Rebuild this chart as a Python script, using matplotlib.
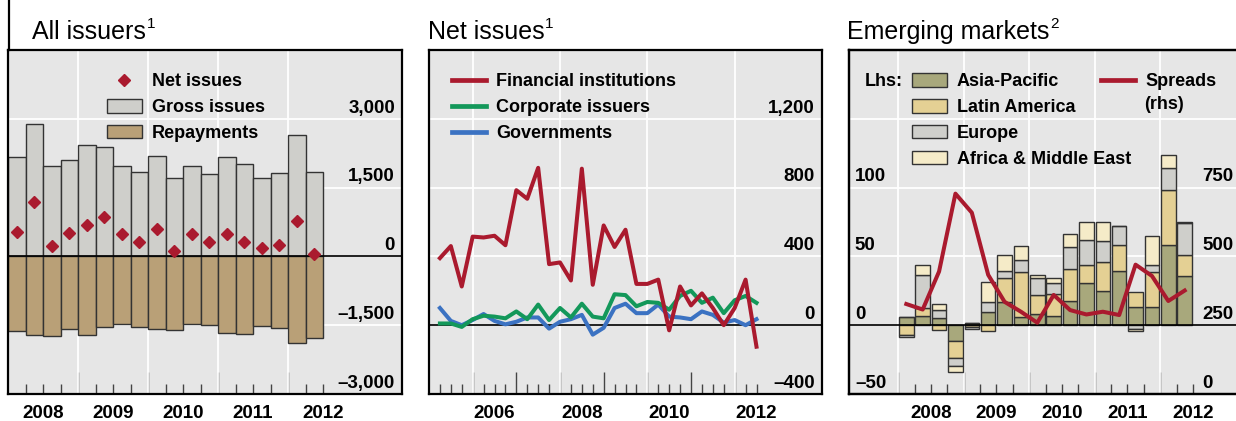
import matplotlib
matplotlib.use('Agg')
import matplotlib.pyplot as plt
import matplotlib.transforms as mtransforms
from matplotlib.lines import Line2D
import numpy as np

plt.rcParams['font.family'] = ['Liberation Sans', 'DejaVu Sans']

# ---------------- data ----------------
# left panel: all issuers, quarterly, USD bn
all_quarters = ['2008Q1', '2008Q2', '2008Q3', '2008Q4', '2009Q1', '2009Q2', '2009Q3', '2009Q4',
                '2010Q1', '2010Q2', '2010Q3', '2010Q4', '2011Q1', '2011Q2', '2011Q3', '2011Q4',
                '2012Q1', '2012Q2']
gross_issues = [2160, 2890, 1975, 2100, 2435, 2395, 1975, 1850, 2195, 1705, 1975, 1795,
                2160, 2010, 1705, 1815, 2650, 1845]
repayments = [-1625, -1705, -1740, -1590, -1720, -1535, -1480, -1550, -1590, -1595, -1465, -1485,
              -1670, -1700, -1520, -1560, -1890, -1780]
net_issues = [535, 1185, 220, 510, 695, 855, 490, 305, 605, 125, 490, 305,
              490, 305, 185, 255, 770, 60]

# middle panel: net issues by sector, quarterly
net_quarters = [f'{y}Q{q}' for y in range(2005, 2013) for q in range(1, 5)][:30]
financial = [390, 460, 225, 515, 510, 520, 465, 785, 735, 915, 355, 365, 260, 910, 235,
             580, 455, 555, 240, 240, 265, -30, 225, 115, 185, 100, 0, 100, 265, -125]
corporate = [10, 10, -10, 35, 55, 50, 40, 80, 35, 120, 30, 100, 45, 125, 50,
             40, 180, 175, 110, 135, 130, 90, 170, 200, 130, 160, 70, 145, 170, 130]
governments = [100, 25, 0, 30, 65, 25, 5, 20, 45, 45, -20, 20, 35, 60, -55,
               -15, 100, 125, 70, 70, 120, 50, 45, 35, 80, 60, 15, 30, 0, 35]

# right panel: emerging markets, quarterly
em_quarters = all_quarters
asia_pacific = [6, 7, 5.5, -11.7, 1.5, 9.3, 16.6, 6.1, 8.5, 6.8, 17.8, 31, 24.9, 39.5, 12.9, 12.9, 58, 35.4]
latin_america = [-7, 5.4, -3.6, -12.2, -1.2, -4.4, 17.6, 32.2, 13.4, 15.9, 22.9, 12.4, 20.7, 19, 11, 26.1, 40, 15.4]
europe = [-1.6, 23.8, 5.8, -5.4, -1.8, 7.8, 4.9, 8.8, 12.2, 7.8, 15.9, 18.3, 15.4, 13.4, -2.5, 4.4, 16.1, 23.2]
africa_me = [0, 7.6, 4.4, -4.4, 0, 14.1, 11.7, 10.2, 2.4, 4.1, 10, 13.2, 13.9, 0, -1.5, 21.2, 9.8, 1]
spreads = [327, 307, 445, 728, 659, 433, 335, 299, 259, 360, 305, 289, 299, 287, 470, 429, 338, 376]

# ---------------- style ----------------
BG = '#e6e6e6'
RED = '#aa1a2e'
GREEN = '#13985a'
BLUE = '#3b72c2'
GREY = '#cfcfcb'
TAN = '#b9a077'
OLIVE = '#a8a87c'
SAND = '#e4d094'
CREAM = '#f5ebc8'
EDGE = '#333333'
W, H = 1236, 421
LEG_Y = 0.932


def qstart(q):
    return int(q[:4]) + (int(q[-1]) - 1) / 4


def setup(ax, xlim, ylim, ygrid, major, minor, vgrid):
    ax.set_facecolor(BG)
    ax.set_xlim(xlim)
    ax.set_ylim(ylim)
    ax.set_yticks(ygrid)
    ax.tick_params(axis='y', length=0, labelleft=False, labelright=False)
    ax.grid(axis='y', color='white', lw=1.3)
    for v in vgrid:
        ax.axvline(v, color='white', lw=1.3, zorder=0.6)
    ax.xaxis.set_ticks_position('bottom')
    ax.set_xticks(major)
    ax.set_xticks(minor, minor=True)
    ax.tick_params(axis='x', which='major', direction='in', length=16, width=1,
                   color='#444444', labelbottom=False)
    ax.tick_params(axis='x', which='minor', direction='in', length=7, width=1,
                   color='#444444')
    ax.axhline(0, color='black', lw=1.2, zorder=2.5)
    for s in ax.spines.values():
        s.set_linewidth(1.6)
    ax.set_axisbelow(True)


def ylabels(ax, values, texts, x, ha):
    trans = mtransforms.blended_transform_factory(ax.transAxes, ax.transData)
    trans = mtransforms.offset_copy(trans, fig=ax.figure, y=4.5, units='points')
    for v, t in zip(values, texts):
        ax.text(x, v, t, transform=trans, ha=ha, va='baseline', fontsize=13.5,
                fontweight='bold', zorder=5)


def xlabels(ax, years):
    trans = mtransforms.blended_transform_factory(ax.transData, ax.transAxes)
    for y in years:
        ax.text(y + 0.5, -0.058, str(y), transform=trans, ha='center', va='center',
                fontsize=13.5, fontweight='bold', clip_on=False)


def title(fig, x, text, sup):
    t = fig.text(x / W, (H - 39) / H, text, fontsize=18, va='baseline', ha='left')
    fig.axes[0].annotate(sup, xy=(1, 1), xycoords=t, xytext=(0.5, 2.5),
                         textcoords='offset points', ha='left', va='top', fontsize=11,
                         annotation_clip=False)


legend_kw = dict(loc='upper left', frameon=False, borderpad=0, borderaxespad=0,
                 handletextpad=0.55, labelspacing=0.49, prop={'weight': 'bold', 'size': 13})

fig = plt.figure(figsize=(W / 100, H / 100), dpi=100)
bot, hgt = (H - 394) / H, 344 / H
ax1 = fig.add_axes([8 / W, bot, 394 / W, hgt])
ax2 = fig.add_axes([429 / W, bot, 393 / W, hgt])
ax3 = fig.add_axes([849 / W, bot, 393 / W, hgt])

# frame line above left panel
fig.add_artist(Line2D([8.5 / W, 8.5 / W], [bot + hgt, 1], color='black', lw=1.6))

# ---------------- panel 1 ----------------
x1 = np.array([qstart(q) for q in all_quarters])
setup(ax1, (2008, 2008 + 394 / 70), (-3000, 4500), [-1500, 1500, 3000],
      [2009, 2010, 2011, 2012], np.arange(2008.25, 2012.6, 0.25), [2009, 2010, 2011, 2012])
gb = ax1.bar(x1, gross_issues, width=0.25, align='edge', color=GREY, edgecolor=EDGE, lw=1, zorder=2)
rb = ax1.bar(x1, repayments, width=0.25, align='edge', color=TAN, edgecolor=EDGE, lw=1, zorder=2)
nl, = ax1.plot(x1 + 0.125, net_issues, ls='none', marker='D', ms=6, color=RED, zorder=3)
ylabels(ax1, [3000, 1500, 0, -1500, -3000], ['3,000', '1,500', '0', '\u20131,500', '\u20133,000'], 0.982, 'right')
xlabels(ax1, [2008, 2009, 2010, 2011, 2012])
ax1.legend([nl, gb, rb], ['Net issues', 'Gross issues', 'Repayments'],
           bbox_to_anchor=(0.251, LEG_Y), handlelength=1.95, handleheight=0.75, **legend_kw)

# ---------------- panel 2 ----------------
x2 = np.array([qstart(q) + 0.25 for q in net_quarters])
setup(ax2, (2005, 2014), (-400, 1600), [400, 800, 1200],
      np.arange(2006, 2013), np.arange(2005.25, 2012.6, 0.25), [2006, 2008, 2010, 2012])
l_fin, = ax2.plot(x2, financial, color=RED, lw=2.9, zorder=3.2)
l_cor, = ax2.plot(x2, corporate, color=GREEN, lw=2.9, zorder=3.1)
l_gov, = ax2.plot(x2, governments, color=BLUE, lw=2.9, zorder=3)
ylabels(ax2, [1200, 800, 400, 0, -400], ['1,200', '800', '400', '0', '\u2013400'], 0.982, 'right')
xlabels(ax2, [2006, 2008, 2010, 2012])
leg_lines = [Line2D([], [], color=c, lw=3.4) for c in (RED, GREEN, BLUE)]
ax2.legend(leg_lines, ['Financial institutions', 'Corporate issuers', 'Governments'],
           bbox_to_anchor=(0.0585, LEG_Y), handlelength=1.9, **legend_kw)

# ---------------- panel 3 ----------------
x3 = np.array([qstart(q) + 0.125 for q in em_quarters])
setup(ax3, (2007.25, 2013.25), (-50, 200), [50, 100, 150],
      [2008, 2009, 2010, 2011, 2012], np.arange(2008.25, 2012.6, 0.25), [2008, 2009, 2010, 2011, 2012])
pos = np.zeros(len(x3))
neg = np.zeros(len(x3))
bars = []
for vals, col in zip([asia_pacific, latin_america, europe, africa_me], [OLIVE, SAND, GREY, CREAM]):
    v = np.array(vals, dtype=float)
    base = np.where(v >= 0, pos, neg)
    bars.append(ax3.bar(x3, v, width=0.22, bottom=base, color=col, edgecolor=EDGE, lw=1, zorder=2))
    pos += np.clip(v, 0, None)
    neg += np.clip(v, None, 0)
ylabels(ax3, [100, 50, 0, -50], ['100', '50', '0', '\u201350'], 0.015, 'left')
xlabels(ax3, [2008, 2009, 2010, 2011, 2012])
ax3.legend([Line2D([], [], color=RED, lw=3.4)], ['Spreads'],
           bbox_to_anchor=(0.641, LEG_Y), handlelength=1.9, **legend_kw)

ax3b = ax3.twinx()
ax3b.set_ylim(0, 1250)
ax3b.set_yticks([])
for s in ax3b.spines.values():
    s.set_linewidth(1.6)
sl, = ax3b.plot(x3, spreads, color=RED, lw=2.9, zorder=3)
ylabels(ax3b, [750, 500, 250, 0], ['750', '500', '250', '0'], 0.90, 'left')

ax3b.text(0.041, LEG_Y, 'Lhs:', transform=ax3b.transAxes, ha='left', va='top',
          fontsize=13, fontweight='bold')
ax3b.legend(bars, ['Asia-Pacific', 'Latin America', 'Europe', 'Africa & Middle East'],
            bbox_to_anchor=(0.160, LEG_Y), handlelength=1.95, handleheight=0.75, **legend_kw)
ax3b.text(0.752, 0.866, '(rhs)', transform=ax3b.transAxes, ha='left', va='top',
          fontsize=13, fontweight='bold')

title(fig, 32, 'All issuers', '1')
title(fig, 428, 'Net issues', '1')
title(fig, 847, 'Emerging markets', '2')

fig.savefig('out.png', dpi=100)
